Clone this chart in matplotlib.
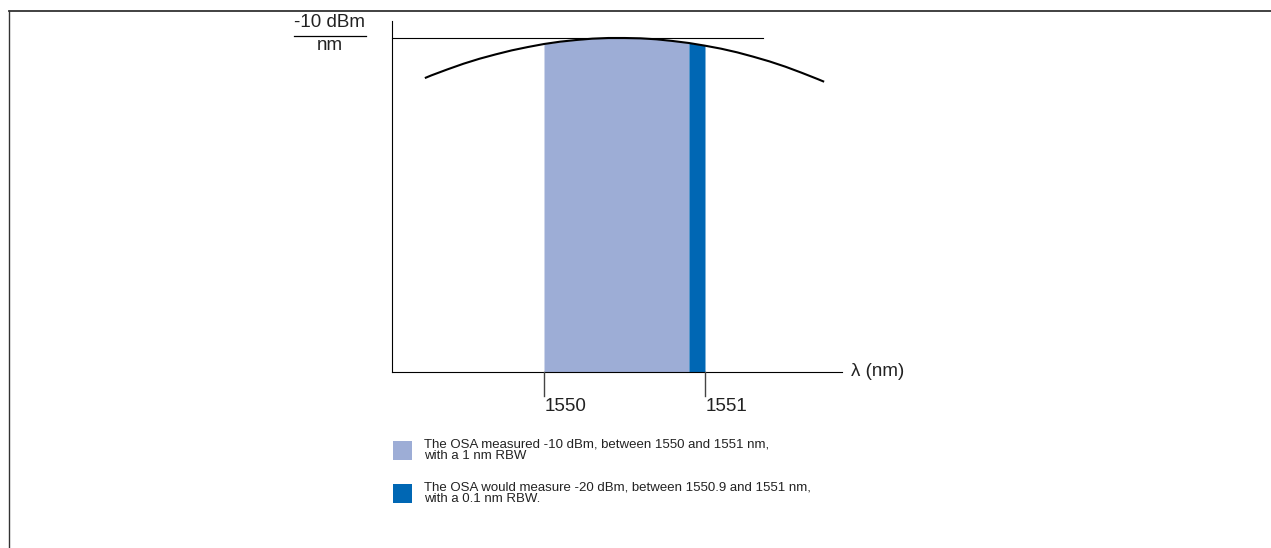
import matplotlib
matplotlib.use("Agg")
import matplotlib.pyplot as plt
import numpy as np

plt.rcParams['font.family'] = ['Liberation Sans', 'DejaVu Sans']

# ---- data ----
wavelength_nm = [1549.26, 1549.3, 1549.4, 1549.5, 1549.6, 1549.7, 1549.8, 1549.9,
                 1550.0, 1550.1, 1550.2, 1550.3, 1550.4, 1550.5, 1550.6, 1550.7,
                 1550.8, 1550.9, 1551.0, 1551.1, 1551.2, 1551.3, 1551.4, 1551.5,
                 1551.6, 1551.7, 1551.74]
power_rel = [0.880, 0.888, 0.906, 0.923, 0.938, 0.951, 0.963, 0.973,
             0.982, 0.989, 0.994, 0.998, 1.000, 1.000, 0.999, 0.996,
             0.991, 0.985, 0.977, 0.968, 0.957, 0.944, 0.930, 0.914,
             0.896, 0.877, 0.869]
ref_level = 1.0            # -10 dBm/nm
band_1nm = (1550.0, 1550.9)   # light band (shown part)
band_01nm = (1550.9, 1551.0)  # 0.1 nm RBW band
tick_values = [1550, 1551]
tick_labels = ['1550', '1551']
legend_texts = ["The OSA measured -10 dBm, between 1550 and 1551 nm,\nwith a 1 nm RBW",
                "The OSA would measure -20 dBm, between 1550.9 and 1551 nm,\nwith a 0.1 nm RBW."]
light_col = '#9DADD6'
dark_col = '#0067B4'

W, H = 1271, 548
fig = plt.figure(figsize=(W / 100, H / 100), dpi=100)
ax = fig.add_axes([0, 0, 1, 1])
ax.set_axis_off()

# pixel <-> data mapping (1550 nm at px 544, 161 px per nm; level 0 at px 372, 1 at px 38)
PX_NM, X0_PX = 161.0, 544.0
Y0_PX, Y1_PX = 372.0, 38.0
def xd(px): return 1550 + (px - X0_PX) / PX_NM
def yd(py): return (Y0_PX - py) / (Y0_PX - Y1_PX)
ax.set_xlim(xd(0), xd(W))
ax.set_ylim(yd(H), yd(0))

wl = np.array(wavelength_nm)
pw = np.array(power_rel)

# bands
m1 = (wl >= band_1nm[0] - 1e-9) & (wl <= band_1nm[1] + 1e-9)
ax.fill_between(wl[m1], 0, pw[m1], color=light_col, lw=0, zorder=1)
m2 = (wl >= band_01nm[0] - 1e-9) & (wl <= band_01nm[1] + 1e-9)
ax.fill_between(wl[m2], 0, pw[m2], color=dark_col, lw=0, zorder=1)

# spectrum curve
ax.plot(wl, pw, color='black', lw=1.5, zorder=3, solid_capstyle='butt')

# axes lines
ax.plot([xd(392), xd(392)], [0, yd(21)], color='black', lw=0.8, zorder=2)
ax.plot([xd(392), xd(842)], [0, 0], color='black', lw=0.8, zorder=2)
ax.plot([xd(392), xd(763)], [ref_level, ref_level], color='black', lw=0.8, zorder=2)

# ticks
for v, lab in zip(tick_values, tick_labels):
    ax.plot([v, v], [0, yd(396)], color='#444444', lw=1.0, zorder=2)
    ax.text(v + 0.5 / PX_NM, yd(398), lab, ha='left', va='top', fontsize=13.5, color='#222222')

ax.text(xd(851), 0, 'λ (nm)', ha='left', va='center', fontsize=13.5, color='#222222')

# y unit label as a fraction
ax.text(xd(330), yd(23), '-10 dBm', ha='center', va='center', fontsize=13.5, color='#222222')
ax.plot([xd(294), xd(366)], [yd(36), yd(36)], color='black', lw=0.9)
ax.text(xd(330), yd(46), 'nm', ha='center', va='center', fontsize=13.5, color='#222222')

# legend
for i, (txt, col) in enumerate(zip(legend_texts, [light_col, dark_col])):
    top = 441 + i * 43
    ax.add_patch(plt.Rectangle((xd(393), yd(top + 19)), 19 / PX_NM, 19 / (Y0_PX - Y1_PX),
                               color=col, lw=0))
    ax.text(xd(424.5), yd(top + 9.5), txt, ha='left', va='center', fontsize=9.5,
            linespacing=0.98, color='#222222')

# frame lines (top and left)
ax.plot([xd(9), xd(W)], [yd(11), yd(11)], color='#333333', lw=1.3, clip_on=False)
ax.plot([xd(9), xd(9)], [yd(11), yd(H)], color='#333333', lw=1.0, clip_on=False)

fig.savefig('out.png', dpi=100)
